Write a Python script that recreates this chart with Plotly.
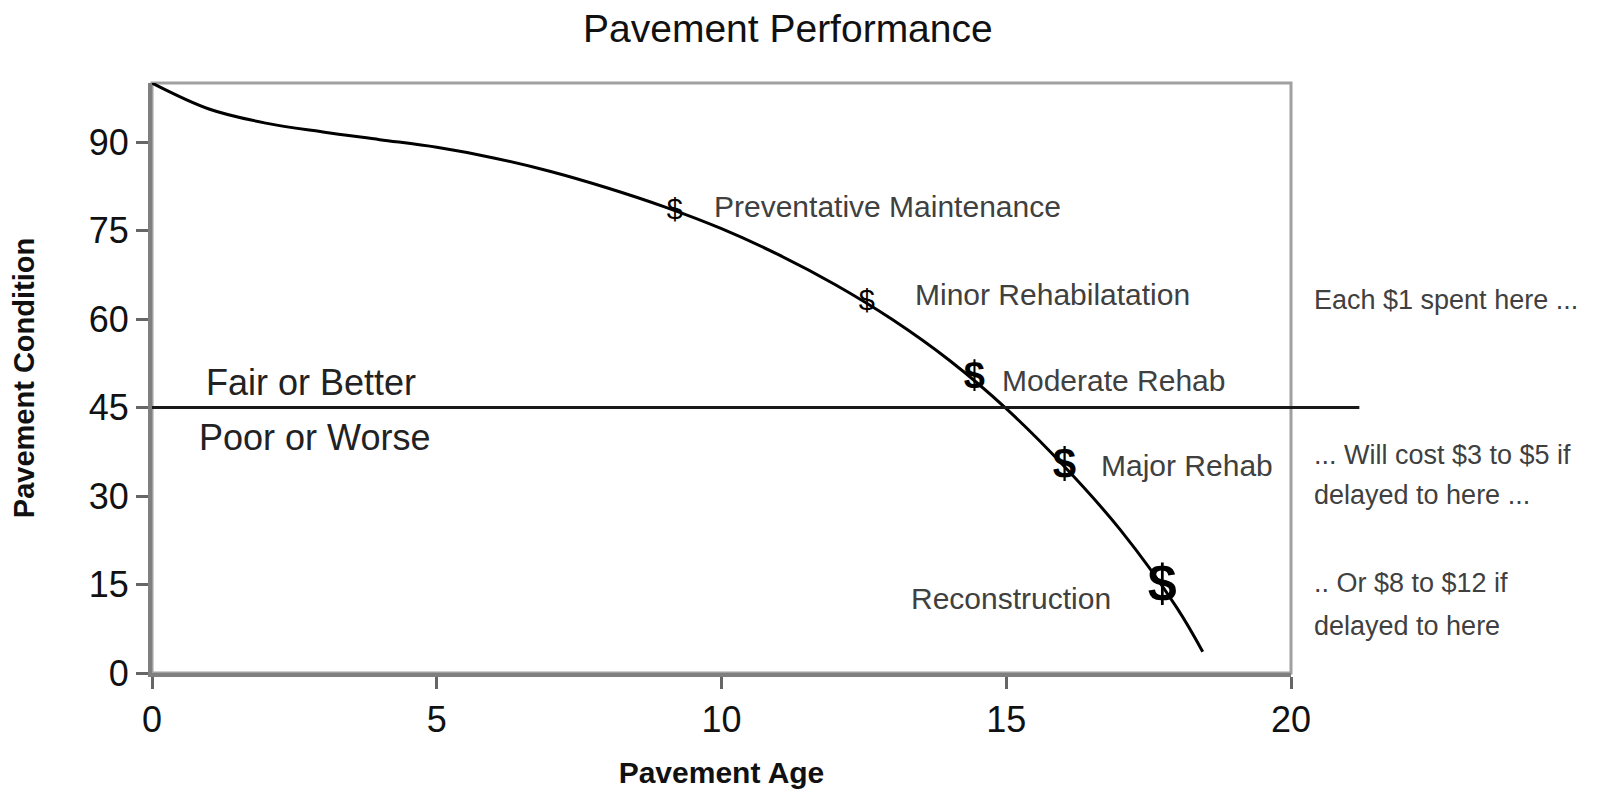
import plotly.graph_objects as go

# ---- data ----
age = [0, 1, 2, 3, 4, 5, 6, 7, 8, 9, 10, 11, 12, 13, 14, 15, 16, 17, 18, 18.45]
condition = [100, 95.6, 93.2, 91.7, 90.4, 89.1, 87.3, 85.0, 82.2, 79.0, 75.3, 70.9,
             65.8, 59.9, 53.0, 44.8, 35.2, 24.3, 11.0, 3.6]

treat_age = [9.18, 12.55, 14.44, 16.02, 17.74]
treat_cond = [78.1, 62.8, 49.9, 34.8, 14.4]
treat_names = ["Preventative Maintenance", "Minor Rehabilatation", "Moderate Rehab",
               "Major Rehab", "Reconstruction"]
dollar_sizes = [29, 29, 38, 42, 52]
dollar_text = ["$", "$", "<b>$</b>", "<b>$</b>", "<b>$</b>"]

threshold = 45
x_ticks = [0, 5, 10, 15, 20]
y_ticks = [0, 15, 30, 45, 60, 75, 90]

FONT = "Liberation Sans, Arial, sans-serif"

fig = go.Figure()

fig.add_trace(go.Scatter(
    x=age, y=condition, mode="lines", line=dict(color="black", width=3, shape="spline"),
    hoverinfo="skip", showlegend=False))

fig.add_trace(go.Scatter(
    x=treat_age, y=treat_cond, mode="text", text=dollar_text,
    textfont=dict(size=dollar_sizes, color="black", family=FONT),
    textposition="middle center", hovertext=treat_names, showlegend=False,
    cliponaxis=False))

# threshold line (extends past the right edge of the plot)
fig.add_shape(type="line", xref="paper", yref="y", x0=0, x1=1.06, y0=threshold, y1=threshold,
              line=dict(color="#1a1a1a", width=3), layer="above")
# frame
fig.add_shape(type="rect", xref="paper", yref="paper", x0=0, x1=1, y0=0, y1=1,
              line=dict(color="#a0a0a0", width=3), layer="below")

label_pos = [(9.83, 79.0), (13.36, 64.1), (14.89, 49.5), (16.63, 35.1), (13.29, 12.7)]
for name, (lx, ly) in zip(treat_names, label_pos):
    fig.add_annotation(x=lx, y=ly, xref="x", yref="y", text=name, showarrow=False,
                       xanchor="left", yanchor="middle",
                       font=dict(size=30, color="#404040", family=FONT))

fig.add_annotation(x=0.91, y=49.3, xref="x", yref="y", text="Fair or Better", showarrow=False,
                   xanchor="left", yanchor="middle", font=dict(size=36, color="#222", family=FONT))
fig.add_annotation(x=0.79, y=40.0, xref="x", yref="y", text="Poor or Worse", showarrow=False,
                   xanchor="left", yanchor="middle", font=dict(size=36, color="#222", family=FONT))

side_notes = [("Each $1 spent here ...", 63.2), ("... Will cost $3 to $5 if", 36.9),
              ("delayed to here ...", 30.2), (".. Or $8 to $12 if", 15.3),
              ("delayed to here", 8.0)]
for txt, sy in side_notes:
    fig.add_annotation(x=1.0185, y=sy, xref="paper", yref="y", text=txt, showarrow=False,
                       xanchor="left", yanchor="middle",
                       font=dict(size=27, color="#404040", family=FONT))

fig.add_annotation(x=0.5585, y=1.0, xref="paper", yref="paper", yshift=55,
                   text="Pavement Performance", showarrow=False, xanchor="center",
                   yanchor="middle", font=dict(size=39, color="#111", family=FONT))

# page body adds an 8px offset, so the figure is 8px smaller and margins shifted
fig.update_layout(
    width=1615, height=785,
    margin=dict(l=144, r=332, t=75, b=120),
    plot_bgcolor="white", paper_bgcolor="white",
    font=dict(family=FONT, color="#111"),
    xaxis=dict(range=[0, 20], tickvals=x_ticks, showgrid=False, zeroline=False,
               showline=True, linecolor="#7f7f7f", linewidth=4, automargin=False,
               ticks="outside", ticklen=12, tickwidth=3, tickcolor="#666",
               tickfont=dict(size=36, color="#111"), ticklabelstandoff=0,
               title=dict(text="<b>Pavement Age</b>", font=dict(size=30, color="#111"),
                          standoff=24)),
    yaxis=dict(range=[0, 100], tickvals=y_ticks, showgrid=False, zeroline=False,
               showline=True, linecolor="#7f7f7f", linewidth=4, automargin=False,
               ticks="outside", ticklen=12, tickwidth=3, tickcolor="#666",
               tickfont=dict(size=36, color="#111"), ticklabelstandoff=0,
               title=dict(text="<b>Pavement Condition</b>", font=dict(size=29, color="#111"),
                          standoff=51)),
)

fig.write_html("out.html")
